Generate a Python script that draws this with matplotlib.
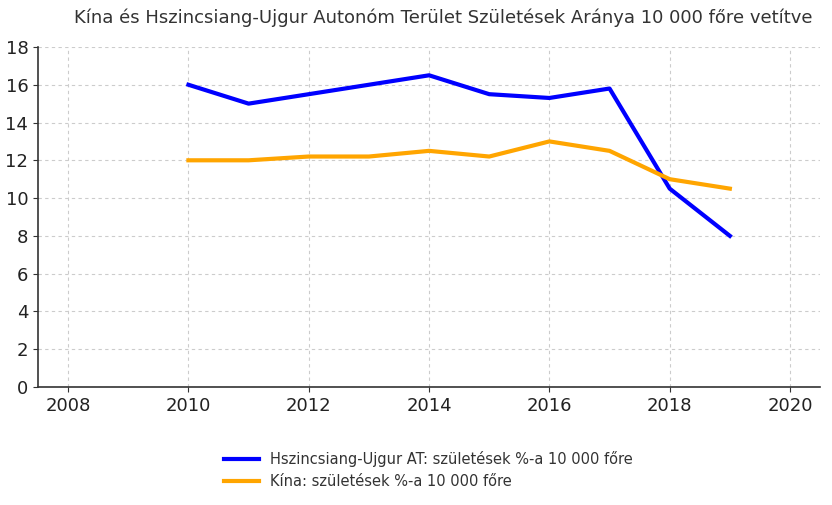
import matplotlib
matplotlib.use("Agg")
import matplotlib.pyplot as plt

years = [2010, 2011, 2012, 2013, 2014, 2015, 2016, 2017, 2018, 2019]
xinjiang = [16.0, 15.0, 15.5, 16.0, 16.5, 15.5, 15.3, 15.8, 10.5, 8.0]
china = [12.0, 12.0, 12.2, 12.2, 12.5, 12.2, 13.0, 12.5, 11.0, 10.5]
label_x = "Hszincsiang-Ujgur AT: születések %-a 10 000 főre"
label_c = "Kína: születések %-a 10 000 főre"
title = "Kína és Hszincsiang-Ujgur Autonóm Terület Születések Aránya 10 000 főre vetítve"

plt.rcParams['font.family'] = ['DejaVu Sans']
fig = plt.figure(figsize=(8.32, 5.05), dpi=100)
ax = fig.add_axes([0.0457, 0.2337, 0.94, 0.6733])
ax.plot(years, xinjiang, color='#0000ff', lw=3, label=label_x)
ax.plot(years, china, color='#ffa500', lw=3, label=label_c)
ax.set_xlim(2007.5, 2020.5)
ax.set_ylim(0, 18)
ax.set_xticks(range(2008, 2021, 2))
ax.set_yticks(range(0, 19, 2))
ax.grid(True, linestyle=(0, (3, 3)), color='#cccccc', lw=0.8)
for s in ['top', 'right']:
    ax.spines[s].set_visible(False)
for s in ['left', 'bottom']:
    ax.spines[s].set_color('#333333')
    ax.spines[s].set_linewidth(1.2)
ax.tick_params(labelsize=13, colors='#333333', labelcolor='#222222')
fig.text(0.533, 0.965, title, fontsize=13, color='#333333', ha='center', va='center')
fig.legend(loc='center', bbox_to_anchor=(0.515, 0.069), frameon=False,
           fontsize=10.5, labelcolor='#333333', handlelength=2.4)
fig.savefig("out.png", dpi=100)
